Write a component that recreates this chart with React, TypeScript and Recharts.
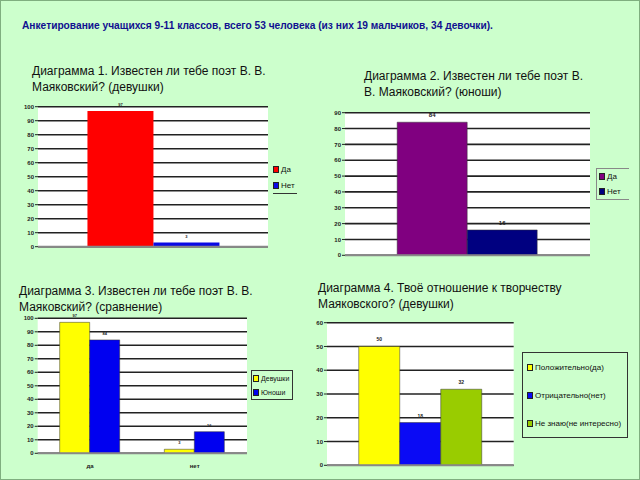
import React from 'react';
import { BarChart, Bar, XAxis, YAxis, CartesianGrid, ReferenceLine, LabelList } from 'recharts';

// ---- Data ----
const mainTitle = 'Анкетирование учащихся 9-11 классов, всего 53 человека (из них 19 мальчиков, 34 девочки).';

const c1Title = ['Диаграмма 1. Известен ли тебе поэт В. В.', 'Маяковский? (девушки)'];
const c1Series = ['Да', 'Нет'];
const c1Values = [97, 3];
const c1Ticks = [0, 10, 20, 30, 40, 50, 60, 70, 80, 90, 100];

const c2Title = ['Диаграмма 2. Известен ли тебе поэт В.', 'В. Маяковский? (юноши)'];
const c2Series = ['Да', 'Нет'];
const c2Values = [84, 16];
const c2Ticks = [0, 10, 20, 30, 40, 50, 60, 70, 80, 90];

const c3Title = ['Диаграмма 3. Известен ли тебе поэт В. В.', 'Маяковский? (сравнение)'];
const c3Categories = ['да', 'нет'];
const c3Series = ['Девушки', 'Юноши'];
const c3Girls = [97, 3];
const c3Boys = [84, 16];
const c3Ticks = [0, 10, 20, 30, 40, 50, 60, 70, 80, 90, 100];

const c4Title = ['Диаграмма 4. Твоё отношение к творчеству', 'Маяковского? (девушки)'];
const c4Series = ['Положительно(да)', 'Отрицательно(нет)', 'Не знаю(не интересно)'];
const c4Values = [50, 18, 32];
const c4Ticks = [0, 10, 20, 30, 40, 50, 60];

// ---- Derived tables ----
const singleRow = (names: string[], vals: number[]) => {
  const row: Record<string, any> = { name: '' };
  names.forEach((n, i) => (row[n] = vals[i]));
  return [row];
};
const c1Data = singleRow(c1Series, c1Values);
const c2Data = singleRow(c2Series, c2Values);
const c4Data = singleRow(c4Series, c4Values);
const c3Data = c3Categories.map((c, i) => ({ name: c, [c3Series[0]]: c3Girls[i], [c3Series[1]]: c3Boys[i] }));

const c1Colors = ['#FF0000', '#0A0AE6'];
const c2Colors = ['#800080', '#000080'];
const c3Colors = ['#FFFF00', '#0000F0'];
const c4Colors = ['#FFFF00', '#0A0AF5', '#99CC00'];

const FONT = '"Liberation Sans", Arial, Helvetica, sans-serif';
const BG = '#CCFFCC';

const tickStyle = { fontSize: 6, fill: '#222', fontWeight: 700, fontFamily: FONT };

const Title = ({ lines, left, top }: { lines: string[]; left: number; top: number }) => (
  <div style={{ position: 'absolute', left, top, fontSize: 12, lineHeight: '16px', color: '#111', fontFamily: FONT, whiteSpace: 'nowrap' }}>
    {lines.map((l, i) => (
      <div key={i}>{l}</div>
    ))}
  </div>
);

const Legend = ({ names, colors, style, rowGap, fontSize, boxStyle }: any) => (
  <div style={{ position: 'absolute', fontFamily: FONT, fontSize, color: '#111', whiteSpace: 'nowrap', ...boxStyle, ...style }}>
    {names.map((n: string, i: number) => (
      <div key={n} style={{ display: 'flex', alignItems: 'center', height: rowGap }}>
        <span style={{ display: 'inline-block', width: 4, height: 5, background: colors[i], border: '0.5px solid #222', marginRight: 2 }} />
        <span>{n}</span>
      </div>
    ))}
  </div>
);

const labelStyle = (size: number) => ({ fontSize: size, fill: '#222', fontFamily: FONT, fontWeight: 700 });

export default function App() {
  return (
    <div
      style={{
        position: 'absolute',
        left: 0,
        top: 0,
        width: 640,
        height: 480,
        background: BG,
        boxSizing: 'border-box',
        border: '1px solid #7fae7f',
        overflow: 'hidden',
        fontFamily: FONT,
      }}
    >
      <div style={{ position: 'absolute', left: 21, top: 18, fontSize: 10.2, fontWeight: 700, color: '#101090', lineHeight: '14px', whiteSpace: 'nowrap' }}>
        {mainTitle}
      </div>

      {/* Chart 1 */}
      <Title lines={c1Title} left={31} top={62} />
      <div style={{ position: 'absolute', left: 0, top: 95 }}>
        <BarChart width={310} height={160} data={c1Data} margin={{ top: 10.7, right: 43, bottom: 9.3, left: 17 }} barCategoryGap="21.5%" barGap={0}>
          <CartesianGrid vertical={false} fill="#fff" stroke="#222" strokeWidth={1.6} />
          <XAxis dataKey="name" hide />
          <YAxis width={20} domain={[0, 100]} ticks={c1Ticks} tick={tickStyle} axisLine={false} tickLine={{ stroke: '#222' }} tickSize={3} tickMargin={1} interval={0} />
          <ReferenceLine y={0} stroke="#888" strokeWidth={2} />
          {c1Series.map((s, i) => (
            <Bar key={s} dataKey={s} fill={c1Colors[i]} isAnimationActive={false}>
              <LabelList dataKey={s} position="top" style={labelStyle(4)} />
            </Bar>
          ))}
        </BarChart>
      </div>
      <Legend
        names={c1Series}
        colors={c1Colors}
        rowGap={16}
        fontSize={8}
        style={{ left: 272, top: 160, width: 24 }}
        boxStyle={{ borderBottom: '1px solid #333', paddingBottom: 0 }}
      />

      {/* Chart 2 */}
      <Title lines={c2Title} left={363} top={67} />
      <div style={{ position: 'absolute', left: 320, top: 100 }}>
        <BarChart width={300} height={165} data={c2Data} margin={{ top: 11.7, right: 31, bottom: 10.7, left: 6 }} barCategoryGap="21.3%" barGap={0}>
          <CartesianGrid vertical={false} fill="#fff" stroke="#222" strokeWidth={1.6} />
          <XAxis dataKey="name" hide />
          <YAxis width={18} domain={[0, 90]} ticks={c2Ticks} tick={tickStyle} axisLine={false} tickLine={{ stroke: '#222' }} tickSize={3} tickMargin={1} interval={0} />
          <ReferenceLine y={0} stroke="#888" strokeWidth={2} />
          {c2Series.map((s, i) => (
            <Bar key={s} dataKey={s} fill={c2Colors[i]} stroke="#333" strokeWidth={0.5} isAnimationActive={false}>
              <LabelList dataKey={s} position="top" style={labelStyle(6)} />
            </Bar>
          ))}
        </BarChart>
      </div>
      <Legend
        names={c2Series}
        colors={c2Colors}
        rowGap={15}
        fontSize={8}
        style={{ left: 595, top: 167, width: 30 }}
        boxStyle={{ borderLeft: '1px solid #888', borderTop: '1px solid #888', borderBottom: '1px solid #888', paddingLeft: 2 }}
      />

      {/* Chart 3 */}
      <Title lines={c3Title} left={18} top={282} />
      <div style={{ position: 'absolute', left: 10, top: 305 }}>
        <BarChart width={250} height={175} data={c3Data} margin={{ top: 12.3, right: 14, bottom: 7.7, left: 8.7 }} barCategoryGap="21%" barGap={0}>
          <CartesianGrid vertical={false} fill="#fff" stroke="#222" strokeWidth={1.6} />
          <XAxis dataKey="name" height={20} tick={{ ...tickStyle, fontSize: 6 }} axisLine={false} tickLine={false} tickMargin={4} />
          <YAxis width={18} domain={[0, 100]} ticks={c3Ticks} tick={tickStyle} axisLine={false} tickLine={{ stroke: '#222' }} tickSize={3} tickMargin={1} interval={0} />
          <ReferenceLine y={0} stroke="#888" strokeWidth={2} />
          {c3Series.map((s, i) => (
            <Bar key={s} dataKey={s} fill={c3Colors[i]} stroke="#333" strokeWidth={0.5} isAnimationActive={false}>
              <LabelList dataKey={s} position="top" style={labelStyle(4)} />
            </Bar>
          ))}
        </BarChart>
      </div>
      <Legend
        names={c3Series}
        colors={c3Colors}
        rowGap={14}
        fontSize={7}
        style={{ left: 250, top: 369, width: 39 }}
        boxStyle={{ border: '1px solid #333', paddingLeft: 1 }}
      />

      {/* Chart 4 */}
      <Title lines={c4Title} left={317} top={279} />
      <div style={{ position: 'absolute', left: 300, top: 305 }}>
        <BarChart width={330} height={170} data={c4Data} margin={{ top: 16.7, right: 117.3, bottom: 10.7, left: 8 }} barCategoryGap="17%" barGap={0}>
          <CartesianGrid vertical={false} fill="#fff" stroke="#222" strokeWidth={1.6} />
          <XAxis dataKey="name" hide />
          <YAxis width={18} domain={[0, 60]} ticks={c4Ticks} tick={tickStyle} axisLine={false} tickLine={{ stroke: '#222' }} tickSize={3} tickMargin={1} interval={0} />
          <ReferenceLine y={0} stroke="#888" strokeWidth={2} />
          {c4Series.map((s, i) => (
            <Bar key={s} dataKey={s} fill={c4Colors[i]} stroke="#333" strokeWidth={0.5} isAnimationActive={false}>
              <LabelList dataKey={s} position="top" style={labelStyle(5)} />
            </Bar>
          ))}
        </BarChart>
      </div>
      <Legend
        names={c4Series}
        colors={c4Colors}
        rowGap={28.5}
        fontSize={8}
        style={{ left: 521, top: 351, width: 100, height: 84 }}
        boxStyle={{ border: '1px solid #333', paddingLeft: 4, paddingTop: 0, display: 'flex', flexDirection: 'column', justifyContent: 'center' }}
      />
    </div>
  );
}
